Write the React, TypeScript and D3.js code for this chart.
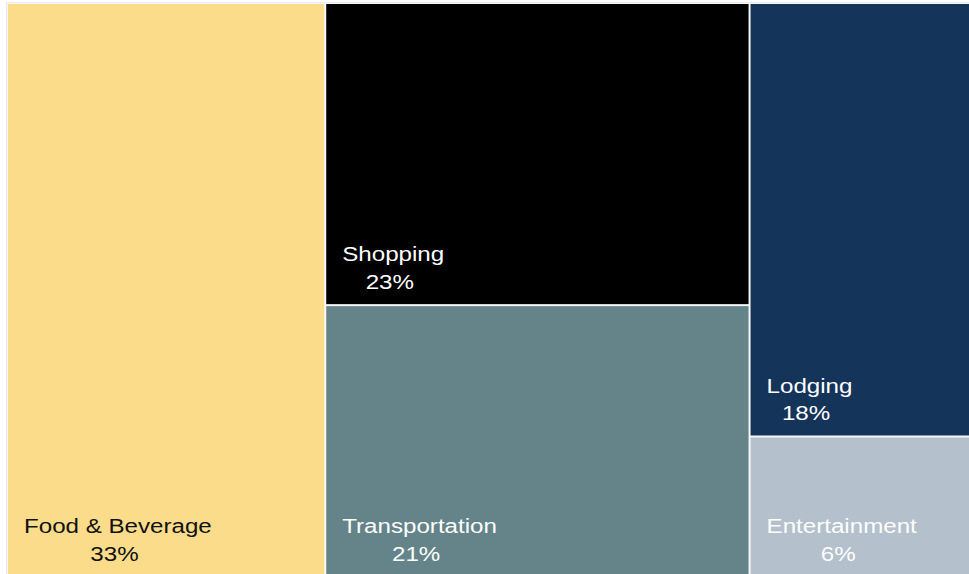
import React from "react";
import * as d3 from "d3";

const categories = ["Food & Beverage", "Shopping", "Transportation", "Lodging", "Entertainment"];
const shares = [33, 23, 21, 18, 6];
const groups = [[0], [1, 2], [3, 4]];
const colors = ["#FADC8B", "#000000", "#64848A", "#15345A", "#B4C0CC"];
const textColors = ["#111111", "#ffffff", "#ffffff", "#ffffff", "#ffffff"];

const W = 969;
const H = 574;
const FONT = "'Liberation Sans', Arial, sans-serif";
const FS = 21;
const SX = 1.15;

let ctx: CanvasRenderingContext2D | null = null;
function measure(t: string) {
  if (!ctx) {
    const c = document.createElement("canvas");
    ctx = c.getContext("2d");
  }
  if (!ctx) return t.length * FS * 0.55;
  ctx.font = `${FS}px ${FONT}`;
  return ctx.measureText(t).width;
}

export default function App() {
  const data = {
    name: "root",
    children: groups.map((g, gi) => ({
      name: "g" + gi,
      children: g.map((i) => ({ name: categories[i], idx: i, value: shares[i] })),
    })),
  };
  const root = d3
    .hierarchy<any>(data)
    .sum((d: any) => d.value || 0);
  d3.treemap<any>()
    .tile(d3.treemapSliceDice)
    .size([972, 576])
    .paddingInner(2)(root);
  const leaves = root.leaves() as any[];
  const ox = 8;
  const oy = 4;

  return (
    <svg
      width={W}
      height={H}
      style={{ position: "absolute", left: 0, top: 0, background: "#ffffff" }}
    >
      <rect x={6} y={2} width={W} height={H} fill="#ebebeb" />
      <rect x={7} y={3} width={W} height={H} fill="#f7f7f7" />
      {leaves.map((l) => {
        const i = l.data.idx;
        const x0 = l.x0 + ox;
        const y0 = l.y0 + oy;
        const x1 = l.x1 + ox;
        const y1 = l.y1 + oy;
        const nw = measure(categories[i]);
        const ly = Math.min(y1, 576);
        return (
          <g key={i}>
            <rect x={x0} y={y0} width={x1 - x0} height={y1 - y0} fill={colors[i]} />
            <g transform={`translate(${x0 + 16},${ly - 43}) scale(${SX},1)`}>
              <text
                x={0}
                y={0}
                fontFamily={FONT}
                fontSize={FS}
                fill={textColors[i]}
              >
                {categories[i]}
              </text>
              <text
                x={nw / 2 - 3}
                y={28}
                textAnchor="middle"
                fontFamily={FONT}
                fontSize={FS}
                fill={textColors[i]}
              >
                {shares[i] + "%"}
              </text>
            </g>
          </g>
        );
      })}
    </svg>
  );
}
